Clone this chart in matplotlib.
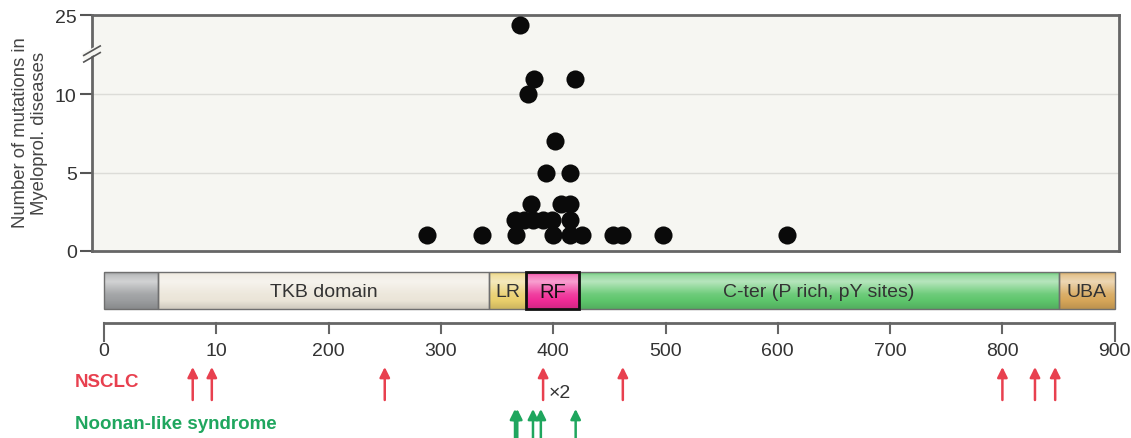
import matplotlib.pyplot as plt
import numpy as np
from matplotlib.patches import Rectangle

plt.rcParams['font.family'] = ['Liberation Sans', 'DejaVu Sans']

# mutations in myeloproliferative diseases: residue position and count
mut_pos = [288, 337, 367, 400, 415, 426, 453, 461, 498, 608,
           366, 374, 382, 391, 399, 415,
           380, 407, 415,
           394, 415,
           402,
           378,
           383, 419,
           370]
mut_count = [1, 1, 1, 1, 1, 1, 1, 1, 1, 1,
             2, 2, 2, 2, 2, 2,
             3, 3, 3,
             5, 5,
             7,
             10,
             11, 11,
             22]

# protein domains (start, end)
dom_names = ['', 'TKB domain', 'LR', 'RF', 'C-ter (P rich, pY sites)', 'UBA']
dom_start = [0, 48, 343, 376, 423, 850]
dom_end = [48, 343, 376, 423, 850, 900]
dom_colors = ['#9b9d9f', '#ebe5d8', '#e9cf6c', '#ef2b96', '#5ec66c', '#d6a659']

axis_ticks = [0, 100, 200, 300, 400, 500, 600, 700, 800, 900]
axis_labels = ['0', '10', '200', '300', '400', '500', '600', '700', '800', '900']

nsclc_pos = [79, 96, 250, 391, 462, 800, 829, 847]
noonan_pos = [366, 368, 382, 389, 420]

W, H = 1131, 439
fig = plt.figure(figsize=(W / 100, H / 100), dpi=100)

xlim = ((92 - 104) / 1.123, (1119 - 104) / 1.123)

# --- top panel: dot plot ---
ax = fig.add_axes([92 / W, 1 - 252 / H, (1119 - 92) / W, (252 - 16) / H])
ax.set_facecolor('#f6f6f2')
brk, k = 12.5, 0.204


def fwd(y):
    y = np.asarray(y, dtype=float)
    return np.where(y <= brk, y, brk + (y - brk) * k)


def inv(z):
    z = np.asarray(z, dtype=float)
    return np.where(z <= brk, z, brk + (z - brk) / k)


ax.set_yscale('function', functions=(fwd, inv))
ax.set_ylim(0, 25)
ax.set_xlim(*xlim)
for g in (5, 10):
    ax.axhline(g, color='#dcdcd8', lw=1, zorder=0)
ax.scatter(mut_pos, mut_count, s=170, color='#0a0a0a', zorder=3, linewidths=0)
ax.set_yticks([0, 5, 10, 25])
ax.set_xticks([])
ax.tick_params(axis='y', length=9, width=1.5, color='#555555',
               labelsize=14, labelcolor='#333333', pad=2)
for sp in ax.spines.values():
    sp.set_color('#666666')
    sp.set_linewidth(2)

# axis break marks
yb = (252 - 55) / 236
ax.plot([-0.009, 0.009], [yb - 0.012, yb + 0.028], transform=ax.transAxes,
        color='#f6f6f2', lw=5, clip_on=False, zorder=5, solid_capstyle='butt')
for off in (-0.014, 0.014):
    ax.plot([-0.008, 0.008], [yb - 0.02 + off, yb + 0.02 + off],
            transform=ax.transAxes, color='#555555', lw=1.2,
            clip_on=False, zorder=6)

fig.text(30 / W, 1 - 133 / H, 'Number of mutations in\nMyeloprol. diseases',
         rotation=90, ha='center', va='center', multialignment='center',
         fontsize=13.3, color='#444444', linespacing=1.15)

# --- bottom panel: domains, residue axis, arrows ---
ax2 = fig.add_axes([92 / W, 0, (1119 - 92) / W, (439 - 262) / H])
ax2.set_xlim(*xlim)
ax2.set_ylim(439, 262)
ax2.axis('off')

bar_top, bar_bot = 273, 310
t = np.linspace(0, 1, 40)
light = np.interp(t, [0, 0.08, 0.25, 0.6, 1.0], [0.05, 0.35, 0.55, 0.1, -0.12])
for s, e, c, name in zip(dom_start, dom_end, dom_colors, dom_names):
    base = np.array(plt.matplotlib.colors.to_rgb(c))
    rows = []
    for l in light:
        if l >= 0:
            rows.append(base + (1 - base) * l)
        else:
            rows.append(base * (1 + l))
    img = np.array(rows)[:, None, :]
    ax2.imshow(img, extent=(s, e, bar_bot, bar_top), aspect='auto',
               origin='upper', interpolation='bilinear', zorder=1)
    if name == 'RF':
        ax2.add_patch(Rectangle((s, bar_top), e - s, bar_bot - bar_top,
                                fill=False, ec='#111111', lw=2, zorder=3))
    else:
        ax2.add_patch(Rectangle((s, bar_top), e - s, bar_bot - bar_top,
                                fill=False, ec='#6f6f6f', lw=1, zorder=2))
    if name:
        ax2.text((s + e) / 2, (bar_top + bar_bot) / 2 + 1, name,
                 ha='center', va='center', fontsize=14.5 if name == 'RF' else 14,
                 color='#111111' if name == 'RF' else '#333333', zorder=4)

# residue number line
ax2.plot([0, 900], [324, 324], color='#666666', lw=2, solid_capstyle='butt')
for xt, lab in zip(axis_ticks, axis_labels):
    y_end = 342 if xt in (0, 900) else 334
    ax2.plot([xt, xt], [324, y_end], color='#666666', lw=1.5)
    ax2.text(xt, 352, lab, ha='center', va='center', fontsize=14, color='#333333')

# mutation arrows
for xp in nsclc_pos:
    ax2.annotate('', xy=(xp, 368), xytext=(xp, 401),
                 arrowprops=dict(arrowstyle='-|>', color='#e8404f', lw=1.8,
                                 mutation_scale=15, shrinkA=0, shrinkB=0))
ax2.text(396, 393, '×2', ha='left', va='center', fontsize=14, color='#333333')
for xp in noonan_pos:
    ax2.annotate('', xy=(xp, 410), xytext=(xp, 446), annotation_clip=False,
                 arrowprops=dict(arrowstyle='-|>', color='#1fa65e', lw=1.8,
                                 mutation_scale=15, shrinkA=0, shrinkB=0))

fig.text(75 / W, 1 - 383 / H, 'NSCLC', ha='left', va='center',
         fontsize=13.5, fontweight='bold', color='#e8404f')
fig.text(75 / W, 1 - 425 / H, 'Noonan-like syndrome', ha='left', va='center',
         fontsize=13.5, fontweight='bold', color='#1fa65e')

fig.savefig('out.png', dpi=100)
